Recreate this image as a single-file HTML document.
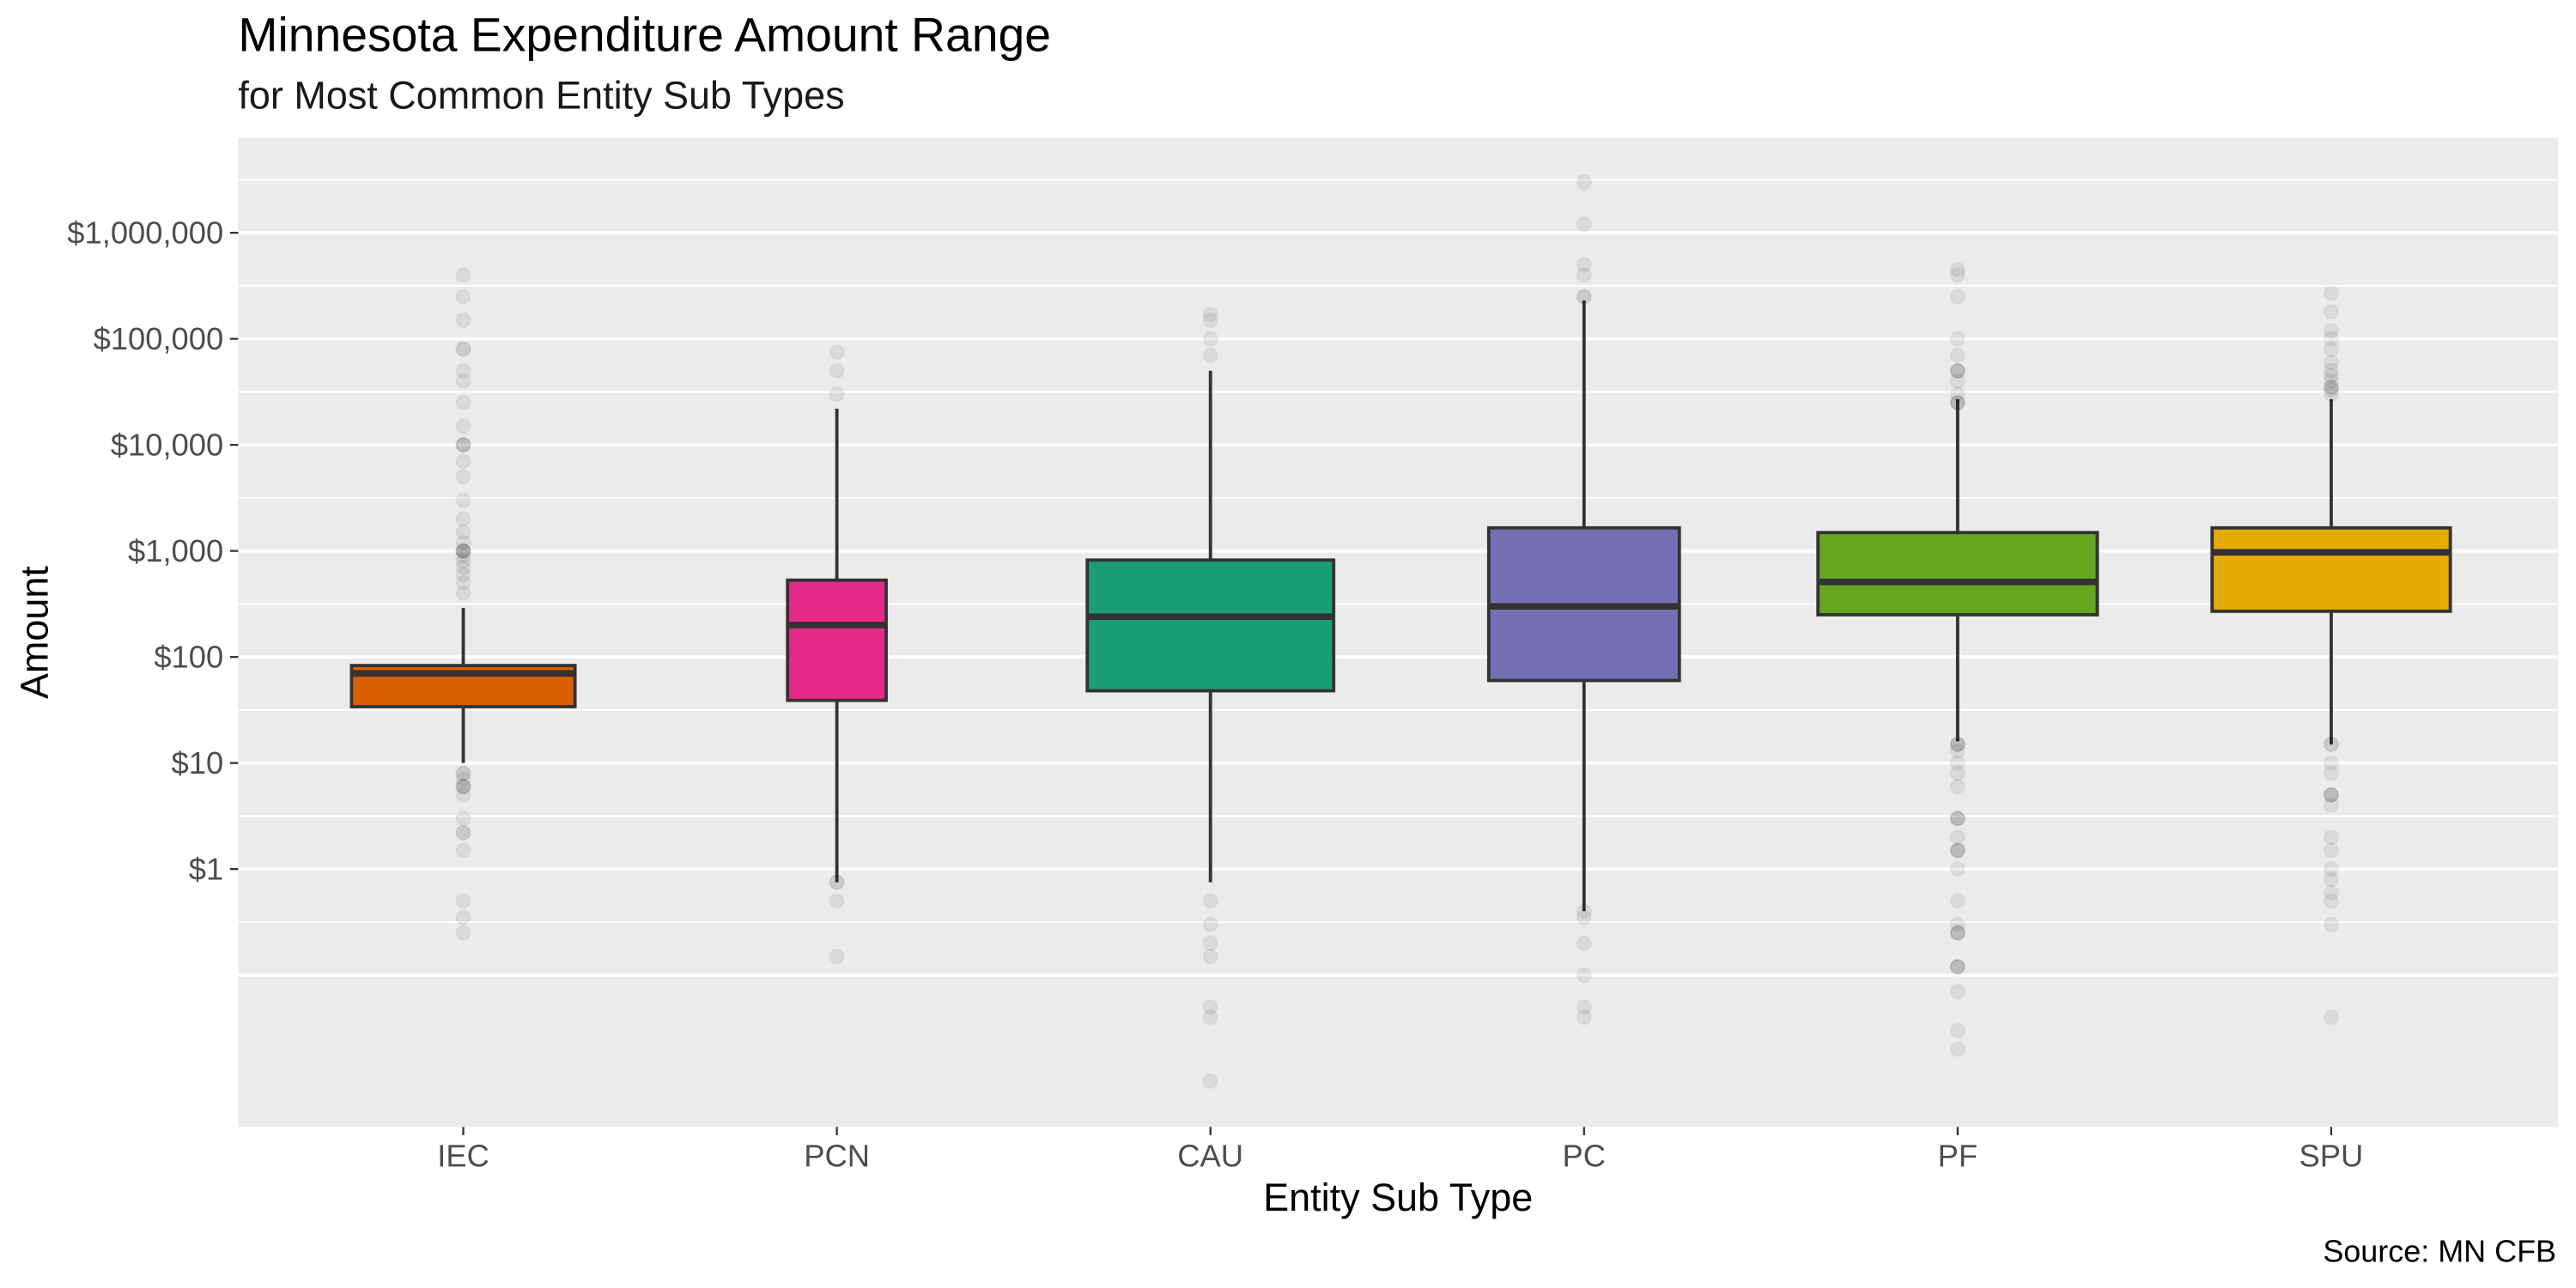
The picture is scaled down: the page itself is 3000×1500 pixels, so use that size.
<!DOCTYPE html>
<html><head><meta charset="utf-8"><style>
html,body{margin:0;padding:0;background:#fff;}
svg{display:block;font-family:"Liberation Sans",sans-serif;}
</style></head><body>
<svg id="chart" width="3000" height="1500" viewBox="0 0 1568 784" preserveAspectRatio="none" xmlns="http://www.w3.org/2000/svg">
<rect x="0" y="0" width="1568" height="784" fill="#fff"/>
<text x="145" y="31" font-size="28.9" fill="#000">Minnesota Expenditure Amount Range</text>
<text x="145" y="66" font-size="23.5" fill="#1a1a1a">for Most Common Entity Sub Types</text>
<rect x="145" y="84" width="1412" height="602" fill="#ebebeb"/>
<g id="grid"></g>
<g id="yaxis"></g>
<g id="marks"></g>
<g id="xaxis"></g>
<text transform="translate(29,385) rotate(-90)" text-anchor="middle" font-size="23.5" fill="#000">Amount</text>
<text x="851" y="737" text-anchor="middle" font-size="23.5" fill="#000">Entity Sub Type</text>
<text x="1556" y="768" text-anchor="end" font-size="18.8" fill="#000">Source: MN CFB</text>
</svg>
<script>
const categories = ["IEC","PCN","CAU","PC","PF","SPU"];
const colors = ["#d95f02","#e7298a","#1b9e77","#7570b3","#66a61e","#e6ab02"];
const q1 = [34, 39, 48, 60, 250, 270];
const medians = [70, 200, 240, 300, 510, 970];
const q3 = [83, 530, 820, 1650, 1490, 1650];
const whiskerLow = [10, 0.75, 0.75, 0.4, 16, 15];
const whiskerHigh = [290, 22000, 50000, 230000, 27000, 27000];
const boxWidths = [136, 60, 150, 116, 170, 145];
const outliers = [
  [400,500,600,700,800,900,1000,1000,1000,1000,1200,1500,2000,3000,5000,7000,10000,10000,10000,15000,25000,40000,50000,80000,80000,150000,250000,400000,8,8,7,6,6,6,5,3,2.2,2.2,1.5,0.5,0.35,0.25],
  [30000,50000,75000,0.75,0.75,0.5,0.15],
  [70000,100000,150000,170000,0.5,0.3,0.2,0.15,0.05,0.04,0.01],
  [250000,250000,400000,500000,1200000,3000000,0.4,0.35,0.2,0.1,0.05,0.04],
  [25000,25000,25000,30000,40000,50000,50000,50000,70000,100000,250000,400000,450000,15,15,15,13,10,8,6,3,3,3,2,1.5,1.5,1.5,1,0.5,0.3,0.25,0.25,0.25,0.12,0.12,0.12,0.07,0.03,0.02],
  [30000,33000,35000,35000,40000,45000,50000,60000,80000,100000,120000,180000,270000,15,15,10,8,5,5,5,4,2,1.5,1,0.8,0.6,0.5,0.3,0.04]
];
const tickValues = [1,10,100,1000,10000,100000,1000000];
const tickLabels = ["$1","$10","$100","$1,000","$10,000","$100,000","$1,000,000"];

const NS = "http://www.w3.org/2000/svg";
const Y1 = 529, PERDEC = 64.55;
function y(v){ return Y1 - Math.log10(v)*PERDEC; }
const X0 = 282, STEP = 227.4;
function x(i){ return X0 + i*STEP; }
function mk(parent, tag, attrs){ const e=document.createElementNS(NS,tag); for(const k in attrs) e.setAttribute(k,attrs[k]); document.getElementById(parent).appendChild(e); return e; }

for(let d=-1; d<=6.5; d+=0.5){
  const yy=y(Math.pow(10,d));
  if(yy<84||yy>686) continue;
  const major = Number.isInteger(d);
  const l=mk("grid","line",{x1:145,x2:1557,y1:yy,y2:yy,stroke:"#fff","stroke-width":major?2:1});
  
  
}
tickValues.forEach((v,i)=>{
  const t=mk("yaxis","line",{x1:140,x2:145,y1:y(v),y2:y(v),stroke:"#333","stroke-width":1.2});
  
  
  const tx=mk("yaxis","text",{x:136,y:y(v)+6.5,"text-anchor":"end","font-size":"19",fill:"#4d4d4d"});
  tx.textContent=tickLabels[i];
  
  
});
categories.forEach((c,i)=>{
  const t=mk("xaxis","line",{x1:x(i),x2:x(i),y1:686,y2:691,stroke:"#333","stroke-width":1.2});
  
  
  const tx=mk("xaxis","text",{x:x(i),y:710,"text-anchor":"middle","font-size":"19",fill:"#4d4d4d"});
  tx.textContent=c;
  
  
});
categories.forEach((c,i)=>{
  const cx=x(i), BW=boxWidths[i];
  const w1=mk("marks","line",{x1:cx,x2:cx,y1:y(q3[i]),y2:y(whiskerHigh[i]),stroke:"#333","stroke-width":2});
  
  
  const w2=mk("marks","line",{x1:cx,x2:cx,y1:y(q1[i]),y2:y(whiskerLow[i]),stroke:"#333","stroke-width":2});
  
  
  outliers[i].forEach(v=>{
    const p=mk("marks","circle",{cx:cx,cy:y(v),r:4.3,fill:"#000","fill-opacity":0.07,stroke:"#000","stroke-opacity":0.04});
    
    
  });
  const b=mk("marks","rect",{x:cx-BW/2,y:y(q3[i]),width:BW,height:y(q1[i])-y(q3[i]),fill:colors[i],stroke:"#333","stroke-width":2});
  
  
  const m=mk("marks","line",{x1:cx-BW/2,x2:cx+BW/2,y1:y(medians[i]),y2:y(medians[i]),stroke:"#333","stroke-width":4});
  
  
});
</script>
</body></html>
